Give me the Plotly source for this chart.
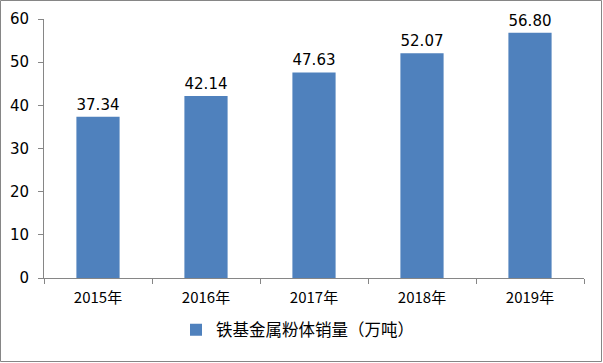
import plotly.graph_objects as go

years = ["2015年", "2016年", "2017年", "2018年", "2019年"]
sales = [37.34, 42.14, 47.63, 52.07, 56.80]
labels = ["37.34", "42.14", "47.63", "52.07", "56.80"]
series_name = "铁基金属粉体销量（万吨）"

W, H = 603, 363
L, R, T, B = 44, 19, 19, 85
pw, ph = W - L - R, H - T - B


def py(p):
    return (H - B - p) / ph


def px(p):
    return (p - L) / pw


fig = go.Figure()
fig.add_trace(go.Bar(
    x=years, y=sales, name=series_name,
    marker=dict(color="#4F81BD", line=dict(width=0)),
    text=labels, textposition="outside", cliponaxis=False,
    textfont=dict(size=15, color="#000000", family="DejaVu Sans, Noto Sans CJK SC"),
))

fig.update_layout(
    width=W, height=H,
    margin=dict(l=L, r=R, t=T, b=B, autoexpand=False),
    paper_bgcolor="white", plot_bgcolor="white",
    bargap=0.6,
    showlegend=True,
    legend=dict(orientation="h", x=px(176), xanchor="left",
                y=py(330), yanchor="middle",
                font=dict(size=16.5, family="Noto Sans CJK SC", color="#000000"),
                itemwidth=30, bgcolor="rgba(0,0,0,0)"),
    font=dict(family="Noto Sans CJK SC", color="#000000"),
    xaxis=dict(
        type="category", showline=True, linecolor="#868686", linewidth=1,
        ticks="outside", tickson="boundaries", ticklen=5, tickcolor="#868686",
        tickfont=dict(size=15, family="Noto Sans CJK SC"), showgrid=False,
        automargin=False, ticklabelstandoff=6,
    ),
    yaxis=dict(
        range=[0, 60], dtick=10, showline=True, linecolor="#868686", linewidth=1,
        ticks="outside", ticklen=5, tickcolor="#868686", showgrid=False,
        zeroline=False, tickfont=dict(size=15, family="DejaVu Sans"),
        automargin=False, ticklabelstandoff=6,
    ),
    shapes=[dict(
        type="rect", xref="paper", yref="paper",
        x0=px(0.5), x1=px(W - 1.5),
        y0=py(H - 1.5), y1=py(0.5),
        line=dict(color="#868686", width=1), fillcolor="rgba(0,0,0,0)", layer="below",
    )],
)

fig.write_html("out.html", config={"displayModeBar": False},
               post_script="document.body.style.margin='0';")
